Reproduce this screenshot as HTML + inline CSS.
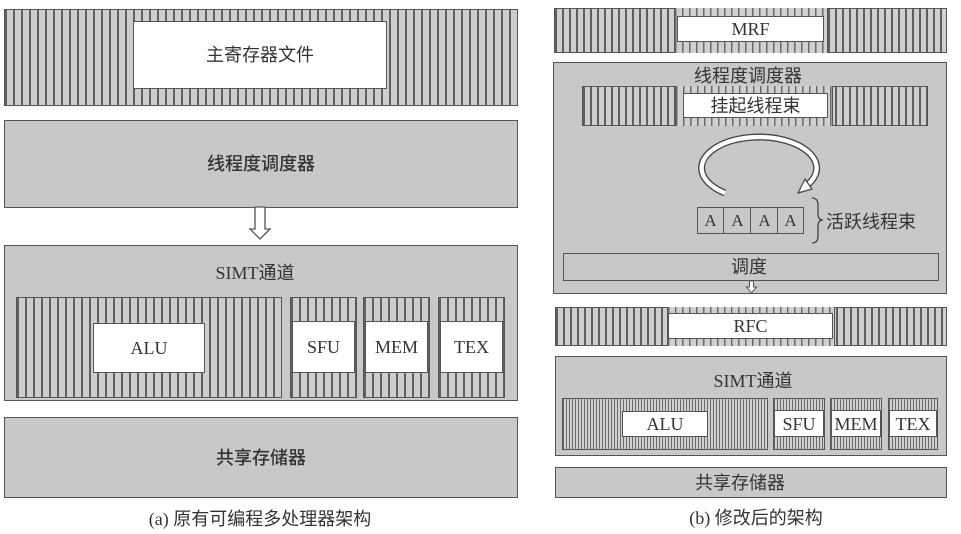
<!DOCTYPE html>
<html><head><meta charset="utf-8">
<style>
*{margin:0;padding:0;box-sizing:border-box}
html,body{width:961px;height:534px;background:#fff;overflow:hidden}
body{position:relative;font-family:"Liberation Serif","Noto Sans CJK SC",serif;color:#333}
.a{position:absolute}
.box{position:absolute;border:1.5px solid #555;background:#c8c8c8}
.hl{position:absolute;border:1.5px solid #555;background:repeating-linear-gradient(90deg,#606060 0 2px,#cdcdcd 2px 8px)}
.hr{position:absolute;border:1.5px solid #555;background:repeating-linear-gradient(90deg,#5e5e5e 0 2px,#cfcfcf 2px 7px)}
.hf{position:absolute;border:1.5px solid #555;background:repeating-linear-gradient(90deg,#6a6a6a 0 1px,#d2d2d2 1px 3px)}
.w{position:absolute;border:1.5px solid #555;background:#fff}
.t{position:absolute;display:flex;align-items:center;justify-content:center;white-space:nowrap;font-size:18px;line-height:1;color:#333}
.cj{font-family:"Liberation Sans","Noto Sans CJK SC",sans-serif}
</style></head><body>

<!-- LEFT PANEL -->
<div class="hl" style="left:4px;top:9px;width:514px;height:97px"></div>
<div class="w" style="left:133px;top:21px;width:254px;height:68px"></div>
<div class="t cj" style="left:133px;top:21px;width:254px;height:68px">主寄存器文件</div>

<div class="box" style="left:4px;top:120px;width:514px;height:88px"></div>
<div class="t cj" style="left:4px;top:120px;width:514px;height:88px;font-weight:500">线程度调度器</div>

<div class="box" style="left:4px;top:245px;width:514px;height:156px"></div>
<div class="t" style="left:160px;top:262px;width:190px;height:22px">SIMT通道</div>

<div class="hl" style="left:16px;top:297px;width:266px;height:101px"></div>
<div class="w" style="left:93px;top:323px;width:112px;height:50px"></div>
<div class="t" style="left:93px;top:323px;width:112px;height:50px">ALU</div>

<div class="hl" style="left:290px;top:297px;width:67px;height:101px"></div>
<div class="w" style="left:292px;top:321px;width:63px;height:52px"></div>
<div class="t" style="left:292px;top:321px;width:63px;height:52px">SFU</div>

<div class="hl" style="left:363px;top:297px;width:67px;height:101px"></div>
<div class="w" style="left:365px;top:321px;width:63px;height:52px"></div>
<div class="t" style="left:365px;top:321px;width:63px;height:52px">MEM</div>

<div class="hl" style="left:438px;top:297px;width:67px;height:101px"></div>
<div class="w" style="left:440px;top:321px;width:63px;height:52px"></div>
<div class="t" style="left:440px;top:321px;width:63px;height:52px">TEX</div>

<div class="box" style="left:4px;top:417px;width:514px;height:81px"></div>
<div class="t cj" style="left:4px;top:417px;width:514px;height:81px;font-weight:500">共享存储器</div>

<div class="t" style="left:60px;top:508px;width:400px;height:22px">(a) 原有可编程多处理器架构</div>

<!-- RIGHT PANEL -->
<div class="hr" style="left:554px;top:8px;width:393px;height:45px"></div>
<div class="hr" style="left:674px;top:8px;width:154px;height:45px;border-top:none;border-bottom:none;background:repeating-linear-gradient(90deg,#6a6a6a 0 1.5px,#d0d0d0 1.5px 7px)"></div>
<div class="w" style="left:677px;top:16px;width:147px;height:26px"></div>
<div class="t" style="left:677px;top:16px;width:147px;height:26px">MRF</div>

<div class="box" style="left:553px;top:62px;width:394px;height:232px"></div>
<div class="t cj" style="left:648px;top:66px;width:200px;height:20px">线程度调度器</div>

<div class="hr" style="left:582px;top:86px;width:346px;height:40px"></div>
<div class="hr" style="left:675px;top:86px;width:158px;height:40px;border-top:none;border-bottom:none;background:repeating-linear-gradient(90deg,#6a6a6a 0 1.5px,#d0d0d0 1.5px 7px)"></div>
<div class="w" style="left:683px;top:93px;width:145px;height:25px"></div>
<div class="t cj" style="left:683px;top:93px;width:145px;height:25px">挂起线程束</div>

<!-- A cells -->
<div class="a" style="left:697px;top:207px;width:107px;height:27px;border:1.3px solid #555;background:#c8c8c8"></div>
<div class="a" style="left:723px;top:207px;width:1.3px;height:27px;background:#555"></div>
<div class="a" style="left:750px;top:207px;width:1.3px;height:27px;background:#555"></div>
<div class="a" style="left:777px;top:207px;width:1.3px;height:27px;background:#555"></div>
<div class="t" style="left:697px;top:208px;width:27px;height:25px;font-size:17px">A</div>
<div class="t" style="left:724px;top:208px;width:27px;height:25px;font-size:17px">A</div>
<div class="t" style="left:751px;top:208px;width:27px;height:25px;font-size:17px">A</div>
<div class="t" style="left:777px;top:208px;width:27px;height:25px;font-size:17px">A</div>
<div class="t cj" style="left:826px;top:211px;width:98px;height:22px;justify-content:flex-start">活跃线程束</div>

<div class="box" style="left:563px;top:253px;width:376px;height:28px"></div>
<div class="t cj" style="left:700px;top:256px;width:98px;height:22px">调度</div>

<div class="hr" style="left:555px;top:307px;width:392px;height:39px"></div>
<div class="hr" style="left:667px;top:307px;width:168px;height:39px;border-top:none;border-bottom:none;background:repeating-linear-gradient(90deg,#6a6a6a 0 1.5px,#d0d0d0 1.5px 7px)"></div>
<div class="w" style="left:668px;top:313px;width:165px;height:26px"></div>
<div class="t" style="left:668px;top:313px;width:165px;height:26px">RFC</div>

<div class="box" style="left:555px;top:356px;width:392px;height:100px"></div>
<div class="t" style="left:653px;top:370px;width:200px;height:22px">SIMT通道</div>

<div class="hf" style="left:562px;top:398px;width:206px;height:52px"></div>
<div class="w" style="left:622px;top:411px;width:86px;height:26px"></div>
<div class="t" style="left:622px;top:411px;width:86px;height:26px">ALU</div>

<div class="hf" style="left:773px;top:398px;width:52px;height:52px"></div>
<div class="w" style="left:774px;top:410px;width:50px;height:27px"></div>
<div class="t" style="left:774px;top:410px;width:50px;height:27px">SFU</div>

<div class="hf" style="left:830px;top:398px;width:52px;height:52px"></div>
<div class="w" style="left:831px;top:410px;width:50px;height:27px"></div>
<div class="t" style="left:829px;top:410px;width:54px;height:27px">MEM</div>

<div class="hf" style="left:888px;top:398px;width:50px;height:52px"></div>
<div class="w" style="left:889px;top:410px;width:48px;height:27px"></div>
<div class="t" style="left:889px;top:410px;width:48px;height:27px">TEX</div>

<div class="box" style="left:555px;top:467px;width:392px;height:31px"></div>
<div class="t cj" style="left:640px;top:472px;width:200px;height:22px">共享存储器</div>

<div class="t" style="left:606px;top:507px;width:300px;height:22px">(b) 修改后的架构</div>

<!-- arrows / brace -->
<svg class="a" style="left:0;top:0" width="961" height="534" viewBox="0 0 961 534">
  <polygon points="255,207 265,207 265,229 270,229 260,239 250,229 255,229" fill="#fff" stroke="#555" stroke-width="1.3"/>
  <polygon points="749.5,281 753.5,281 753.5,287 756.5,287 751.5,293 746.5,287 749.5,287" fill="#fff" stroke="#555" stroke-width="1"/>
  <path d="M 725 193 A 57.5 31 0 1 1 806 186" fill="none" stroke="#444" stroke-width="7"/>
  <path d="M 725 193 A 57.5 31 0 1 1 806 186" fill="none" stroke="#fff" stroke-width="4.3"/>
  <polygon points="798,193 812,189 805,179" fill="#fff" stroke="#444" stroke-width="1.2"/>
  <path d="M 812 198 Q 818 198 818 205 L 818 214 Q 818 220 823 220 Q 818 220 818 226 L 818 236 Q 818 243 812 243" fill="none" stroke="#444" stroke-width="1.3"/>
</svg>
</body></html>
